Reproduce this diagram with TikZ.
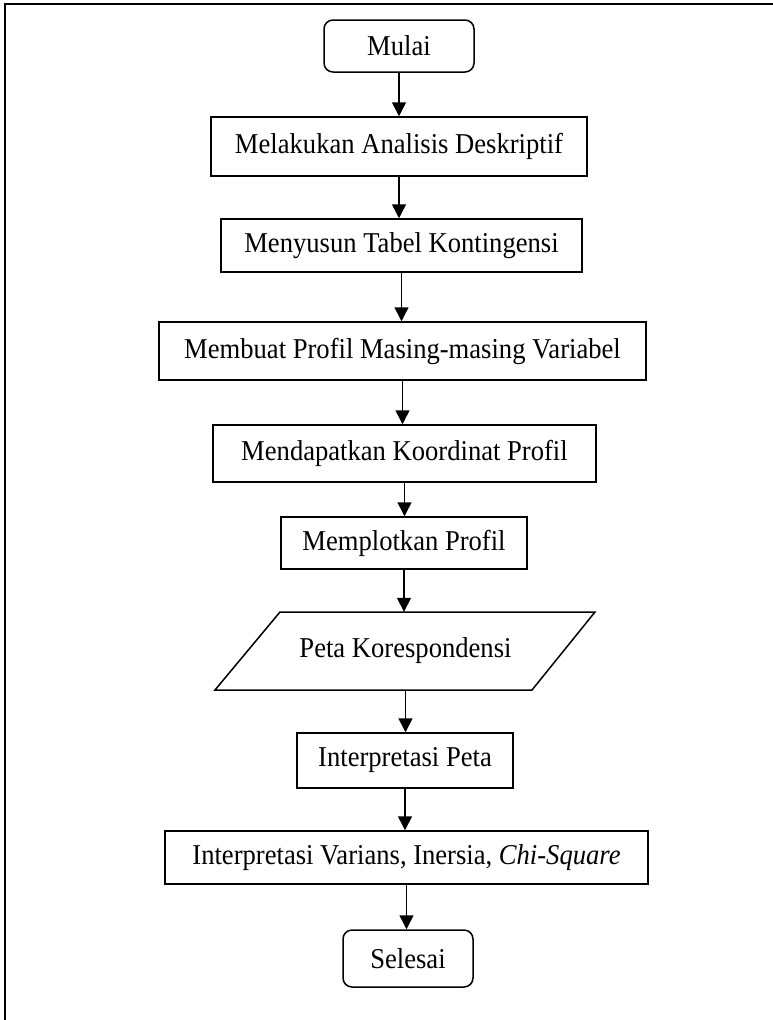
\documentclass[tikz,border=0pt]{standalone}
\usepackage{fontspec}
\setmainfont{Liberation Serif}
\usetikzlibrary{arrows.meta,calc}
\newcommand{\tall}[1]{\scalebox{1}[1.08]{#1}}
\begin{document}
\begin{tikzpicture}[x=1pt,y=-1pt,
  txt/.style={font=\fontsize{26.6}{30}\selectfont, inner sep=0pt},
  box/.style={txt, draw, line width=1.5pt},
  term/.style={box, rounded corners=9pt},
  arr/.style={line width=1.5pt, -{Triangle[length=14pt,width=14pt]}}]
\useasboundingbox (0,0) rectangle (773,1020);
\begin{scope}
  \clip (0,0) rectangle (773,1020);
  \draw[line width=1.8pt] (5,4) rectangle (800,1050);
\end{scope}

\node[term, minimum width=150pt, minimum height=52pt] (mulai) at (399,46) {\tall{Mulai}};
\node[box, minimum width=376pt, minimum height=59pt] (desk) at (399,146.5) {\tall{Melakukan Analisis Deskriptif}};
\node[box, minimum width=361pt, minimum height=53pt] (tabel) at (401.5,245.5) {\tall{Menyusun Tabel Kontingensi}};
\node[box, minimum width=487pt, minimum height=58pt] (profil) at (402.5,351) {\tall{Membuat Profil Masing-masing Variabel}};
\node[box, minimum width=383pt, minimum height=57pt] (koord) at (404.5,453.5) {\tall{Mendapatkan Koordinat Profil}};
\node[box, minimum width=246pt, minimum height=52pt] (plot) at (404,543) {\tall{Memplotkan Profil}};
\node[txt, minimum height=78pt] (peta) at (405.5,651) {\tall{Peta Korespondensi}};
\draw[line width=1.5pt] ($(peta.center)+(-125.5,-39)$) -- ($(peta.center)+(189.5,-39)$)
  -- ($(peta.center)+(126.5,39)$) -- ($(peta.center)+(-190.5,39)$) -- cycle;
\node[box, minimum width=216pt, minimum height=55pt] (ipeta) at (405,760.5) {\tall{Interpretasi Peta}};
\node[box, minimum width=483pt, minimum height=53pt] (ivar) at (406.5,857.5) {\tall{Interpretasi Varians, Inersia, \textit{Chi-Square}}};
\node[term, minimum width=130pt, minimum height=57pt] (selesai) at (408,958.5) {\tall{Selesai}};

\draw[arr] (mulai.south) -- (mulai.south |- desk.north);
\draw[arr] (desk.south) -- (desk.south |- tabel.north);
\draw[arr] (tabel.south) -- (tabel.south |- profil.north);
\draw[arr] (profil.south) -- (profil.south |- koord.north);
\draw[arr] (koord.south) -- (koord.south |- plot.north);
\draw[arr] (plot.south) -- (plot.south |- peta.north);
\draw[arr] (peta.south) -- (peta.south |- ipeta.north);
\draw[arr] (ipeta.south) -- (ipeta.south |- ivar.north);
\draw[arr] (ivar.south) -- (ivar.south |- selesai.north);
\end{tikzpicture}
\end{document}
